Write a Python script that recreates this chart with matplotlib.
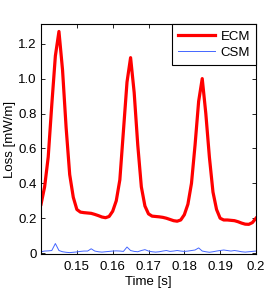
import numpy as np
import matplotlib
matplotlib.use("Agg")
import matplotlib.pyplot as plt

# time axis [s], 1 ms step
time_s = np.round(np.arange(0.140, 0.2005, 0.001), 3)

ecm = [0.28, 0.38, 0.55, 0.85, 1.13, 1.27, 1.05, 0.72, 0.45, 0.32,
       0.25, 0.235, 0.232, 0.23, 0.228, 0.222, 0.215, 0.207, 0.203, 0.21,
       0.24, 0.30, 0.42, 0.70, 0.98, 1.12, 0.92, 0.62, 0.38, 0.27,
       0.225, 0.212, 0.21, 0.208, 0.205, 0.20, 0.193, 0.186, 0.183, 0.19,
       0.22, 0.28, 0.40, 0.62, 0.87, 1.00, 0.80, 0.55, 0.35, 0.25,
       0.20, 0.19, 0.19, 0.188, 0.186, 0.18, 0.172, 0.166, 0.165, 0.175,
       0.20]

csm = [0.008, 0.012, 0.013, 0.015, 0.055, 0.015, 0.008, 0.005, 0.003, 0.005,
       0.007, 0.010, 0.012, 0.012, 0.025, 0.012, 0.008, 0.006, 0.008, 0.010,
       0.012, 0.013, 0.012, 0.010, 0.035, 0.015, 0.010, 0.008, 0.015, 0.020,
       0.012, 0.008, 0.006, 0.008, 0.012, 0.015, 0.010, 0.012, 0.015, 0.012,
       0.010, 0.012, 0.015, 0.018, 0.030, 0.012, 0.008, 0.005, 0.008, 0.012,
       0.015, 0.018, 0.015, 0.012, 0.015, 0.012, 0.008, 0.006, 0.008, 0.010,
       0.012]

xticks = [0.15, 0.16, 0.17, 0.18, 0.19, 0.2]
xtick_labels = ['0.15', '0.16', '0.17', '0.18', '0.19', '0.2']
yticks = [0, 0.2, 0.4, 0.6, 0.8, 1.0, 1.2]
ytick_labels = ['0', '0.2', '0.4', '0.6', '0.8', '1.0', '1.2']

plt.rcParams['font.family'] = ['Liberation Sans', 'DejaVu Sans']
plt.rcParams['font.size'] = 9.5

fig = plt.figure(figsize=(2.7, 2.88), dpi=100)
ax = fig.add_axes([0.152, 0.118, 0.796, 0.797])

ax.plot(time_s, ecm, color='#ff0000', lw=2.3, label='ECM')
ax.plot(time_s, csm, color='#4466ff', lw=0.7, label='CSM')

ax.set_xlim(0.14, 0.2)
ax.set_ylim(-0.005, 1.31)
ax.set_xticks(xticks)
ax.set_xticklabels(xtick_labels)
ax.set_yticks(yticks)
ax.set_yticklabels(ytick_labels)
ax.tick_params(direction='in', top=True, right=True, length=3, width=0.6)
ax.tick_params(axis='x', pad=5)
ax.tick_params(axis='y', pad=3)
for s in ax.spines.values():
    s.set_linewidth(0.8)

ax.set_xlabel('Time [s]', labelpad=2)
ax.set_ylabel('Loss [mW/m]', labelpad=2)

leg = ax.legend(loc='upper right', borderaxespad=0, fancybox=False,
                edgecolor='black', framealpha=1, handlelength=2.8,
                handletextpad=0.4, borderpad=0.45, labelspacing=0.3)
leg.get_frame().set_linewidth(0.8)

fig.savefig('out.png', dpi=100)
